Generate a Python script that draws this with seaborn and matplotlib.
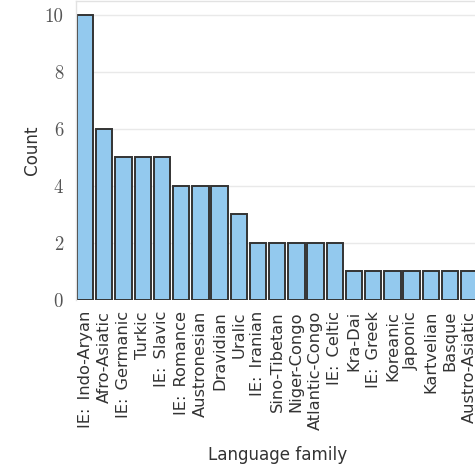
import matplotlib
matplotlib.use("Agg")
import matplotlib.pyplot as plt
import seaborn as sns
import pandas as pd

families = [
    "IE: Indo-Aryan", "Afro-Asiatic", "IE: Germanic", "Turkic", "IE: Slavic",
    "IE: Romance", "Austronesian", "Dravidian", "Uralic", "IE: Iranian",
    "Sino-Tibetan", "Niger-Congo", "Atlantic-Congo", "IE: Celtic", "Kra-Dai",
    "IE: Greek", "Koreanic", "Japonic", "Kartvelian", "Basque", "Austro-Asiatic",
]
counts = [10, 6, 5, 5, 5, 4, 4, 4, 3, 2, 2, 2, 2, 2, 1, 1, 1, 1, 1, 1, 1]
y_ticks = [0, 2, 4, 6, 8, 10]

df = pd.DataFrame({"family": families, "count": counts})

sns.set_theme(style="whitegrid", rc={
    "axes.edgecolor": "#e2e2e2",
    "grid.color": "#e9e9e9",
    "axes.linewidth": 1.0,
})
plt.rcParams["font.family"] = ["DejaVu Sans"]
plt.rcParams["axes.formatter.use_mathtext"] = True

fig = plt.figure(figsize=(4.75, 4.68), dpi=100)
ax = fig.add_axes([0.159, 0.359, 0.849, 0.6395])

sns.barplot(data=df, x="family", y="count", color="#93c9ee", saturation=1,
            edgecolor="#333333", linewidth=1.4, width=0.85, ax=ax)

ax.set_ylim(0, 10.5)
ax.set_xlim(-0.5, len(families) - 0.5)
ax.set_yticks(y_ticks)
ax.set_yticklabels([str(v) for v in y_ticks], family="cmr10", fontsize=13.5, color="#555555")
ax.set_xticks(range(len(families)))
# wider space after the colon, as in typeset sentence spacing
ax.set_xticklabels([f.replace(": ", ":\u2002") for f in families],
                   rotation=90, fontsize=11.7, color="#333333")
ax.tick_params(axis="x", length=0, pad=8)
ax.tick_params(axis="y", length=0, pad=9)
ax.set_xlabel("Language family", fontsize=12.1, color="#333333", labelpad=11.5)
ax.set_ylabel("Count", fontsize=12.1, color="#333333", labelpad=2)
ax.spines["bottom"].set_visible(False)

fig.savefig("out.png", dpi=100)
